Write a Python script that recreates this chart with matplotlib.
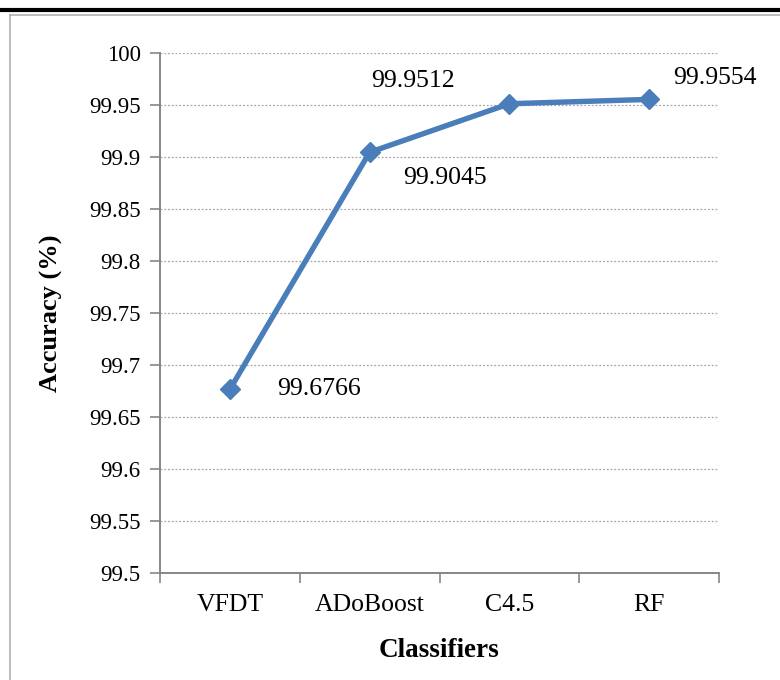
import matplotlib
matplotlib.use('Agg')
import matplotlib.pyplot as plt
from matplotlib.lines import Line2D

# data
classifiers = ['VFDT', 'ADoBoost', 'C4.5', 'RF']
accuracy = [99.6766, 99.9045, 99.9512, 99.9554]
yticks = [99.5, 99.55, 99.6, 99.65, 99.7, 99.75, 99.8, 99.85, 99.9, 99.95, 100]
ytick_labels = ['99.5', '99.55', '99.6', '99.65', '99.7', '99.75', '99.8', '99.85', '99.9', '99.95', '100']

plt.rcParams['font.family'] = ['Liberation Serif', 'DejaVu Serif']

W, H = 780, 680
fig = plt.figure(figsize=(W / 100, H / 100), dpi=100)
ax = fig.add_axes([160 / W, 1 - 573 / H, 559 / W, 520 / H])

axis_col = '#868686'
line_col = '#4A7EBB'

x = list(range(len(classifiers)))
ax.plot(x, accuracy, color=line_col, lw=3.9, marker='D', markersize=10,
        markerfacecolor=line_col, markeredgecolor=line_col, zorder=3,
        solid_joinstyle='round')

ax.set_xlim(-0.5, len(classifiers) - 0.5)
ax.set_ylim(99.5, 100)
ax.set_yticks(yticks)
ax.set_yticklabels(ytick_labels)
# category boundaries get the tick marks, names sit between them
ax.set_xticks([i - 0.5 for i in range(len(classifiers) + 1)])
ax.set_xticklabels([''] * (len(classifiers) + 1))
ax.set_xticks(x, minor=True)
ax.set_xticklabels(classifiers, minor=True)
ax.tick_params(axis='x', which='minor', length=0, labelsize=18.5, pad=15)
ax.tick_params(axis='x', which='major', length=7, color=axis_col, width=1.2)
ax.tick_params(axis='y', length=7, color=axis_col, width=1.2, labelsize=16.5, pad=7)

ax.grid(axis='y', linestyle=(0, (1.5, 1.5)), color='#A6A6A6', lw=0.9)
ax.set_axisbelow(True)
for side in ['top', 'right']:
    ax.spines[side].set_visible(False)
for side in ['left', 'bottom']:
    ax.spines[side].set_color(axis_col)
    ax.spines[side].set_linewidth(1.4)

# data labels, offsets in pixels from the point
offsets = [(47, 0), (34, -26), (-138, 23), (24, 21)]
for xi, yi, (dx, dy) in zip(x, accuracy, offsets):
    ax.annotate(f'{yi:.4f}', (xi, yi), xytext=(dx, dy),
                textcoords='offset pixels', ha='left', va='center', fontsize=18.5)

ax.set_ylabel('Accuracy (%)', fontsize=19, fontweight='bold', labelpad=19)
ax.set_xlabel('Classifiers', fontsize=19.5, fontweight='bold', labelpad=16)

# page frame lines
fig.add_artist(Line2D([0, 1], [1 - 10 / H, 1 - 10 / H], color='black', lw=3,
                      transform=fig.transFigure))
fig.add_artist(Line2D([10 / W, 1], [1 - 14.5 / H, 1 - 14.5 / H], color='#B0B0B0', lw=1.2,
                      transform=fig.transFigure))
fig.add_artist(Line2D([10 / W, 10 / W], [0, 1 - 14.5 / H], color='#B0B0B0', lw=1.2,
                      transform=fig.transFigure))

fig.savefig('out.png', dpi=100)
